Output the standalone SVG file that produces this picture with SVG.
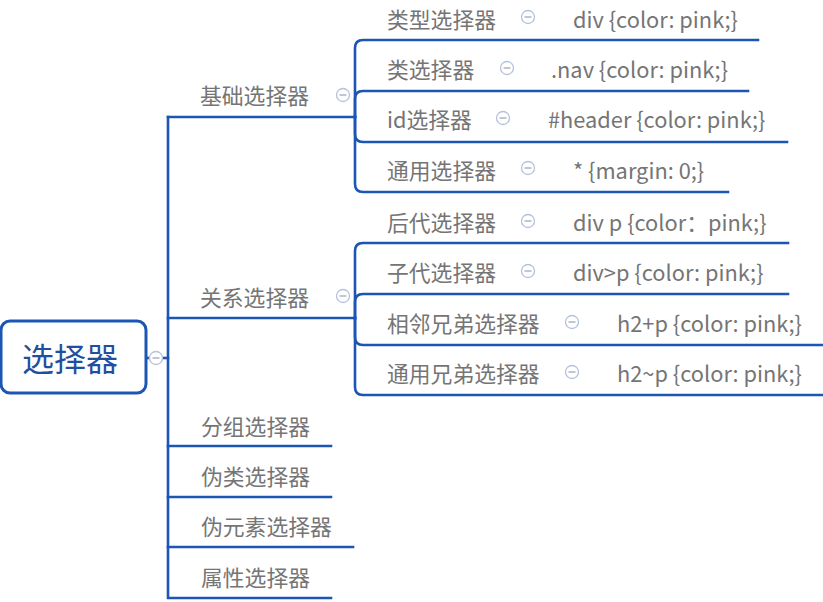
<svg xmlns="http://www.w3.org/2000/svg" width="823" height="602" viewBox="0 0 823 602">
<style>
.ln{fill:none;stroke:#1c56b4;stroke-width:2.6;stroke-linecap:square}
.t{font-family:"Noto Sans CJK SC","Liberation Sans",sans-serif;font-size:21.8px;fill:#757575;dominant-baseline:central}
.c{fill:#fff;stroke:#b4c2de;stroke-width:1.3}
.m{stroke:#a0a8b8;stroke-width:1.3}
</style>
<defs>
<g id="col"><circle class="c" r="6.5"/><line class="m" x1="-3.5" y1="0" x2="3.5" y2="0"/></g>
</defs>
<g id="connectors">
<path class="ln" d="M168,117 V598 H331"/>
<path class="ln" d="M146,358 H168"/>
<path class="ln" d="M168,117 H355"/>
<path class="ln" d="M168,318 H355"/>
<path class="ln" d="M168,446 H331"/>
<path class="ln" d="M168,497 H331"/>
<path class="ln" d="M168,547 H353"/>
<path class="ln" d="M355,117 V48 Q355,40 363,40 H758"/>
<path class="ln" d="M355,117 V99 Q355,91 363,91 H748"/>
<path class="ln" d="M355,117 V134 Q355,142 363,142 H787"/>
<path class="ln" d="M355,117 V184 Q355,192 363,192 H728"/>
<path class="ln" d="M355,318 V251 Q355,243 363,243 H788"/>
<path class="ln" d="M355,318 V302 Q355,294 363,294 H788"/>
<path class="ln" d="M355,318 V337 Q355,345 363,345 H823"/>
<path class="ln" d="M355,318 V387 Q355,395 363,395 H823"/>
</g>
<g id="root">
<rect x="1" y="321" width="145" height="72" rx="9" fill="#fff" stroke="#1c56b4" stroke-width="3"/>
<text x="70" y="357" text-anchor="middle" style="font-family:'Noto Sans CJK SC','Liberation Sans',sans-serif;font-size:32px;fill:#1f4f9e;dominant-baseline:central">选择器</text>
<use href="#col" x="156" y="358"/>
</g>
<g id="n-jichu"><text class="t" x="200" y="94.5">基础选择器</text><use href="#col" x="343" y="95"/></g>
<g id="n-leixing"><text class="t" x="387" y="18.5">类型选择器</text><use href="#col" x="528" y="17"/><text class="t" x="573" y="18.5">div {color: pink;}</text></g>
<g id="n-lei"><text class="t" x="387" y="68.5">类选择器</text><use href="#col" x="507" y="68"/><text class="t" x="551" y="68.5">.nav {color: pink;}</text></g>
<g id="n-id"><text class="t" x="387" y="118.5">id选择器</text><use href="#col" x="503" y="118"/><text class="t" x="548" y="118.5">#header {color: pink;}</text></g>
<g id="n-tongyong"><text class="t" x="387" y="169.5">通用选择器</text><use href="#col" x="528" y="168"/><text class="t" x="573" y="169.5">* {margin: 0;}</text></g>
<g id="n-guanxi"><text class="t" x="200" y="296.5">关系选择器</text><use href="#col" x="343" y="296"/></g>
<g id="n-houdai"><text class="t" x="387" y="221.5">后代选择器</text><use href="#col" x="528" y="221"/><text class="t" x="573" y="221.5">div p {color：pink;}</text></g>
<g id="n-zidai"><text class="t" x="387" y="271.5">子代选择器</text><use href="#col" x="528" y="271"/><text class="t" x="573" y="271.5">div&gt;p {color: pink;}</text></g>
<g id="n-xianglin"><text class="t" x="387" y="322.5">相邻兄弟选择器</text><use href="#col" x="572" y="322"/><text class="t" x="617" y="322.5">h2+p {color: pink;}</text></g>
<g id="n-xiongdi"><text class="t" x="387" y="372.5">通用兄弟选择器</text><use href="#col" x="572" y="372"/><text class="t" x="617" y="372.5">h2~p {color: pink;}</text></g>
<g id="n-fenzu"><text class="t" x="201" y="425.5">分组选择器</text></g>
<g id="n-weilei"><text class="t" x="201" y="475.5">伪类选择器</text></g>
<g id="n-weiyuansu"><text class="t" x="201" y="525.5">伪元素选择器</text></g>
<g id="n-shuxing"><text class="t" x="201" y="576.5">属性选择器</text></g>
</svg>
